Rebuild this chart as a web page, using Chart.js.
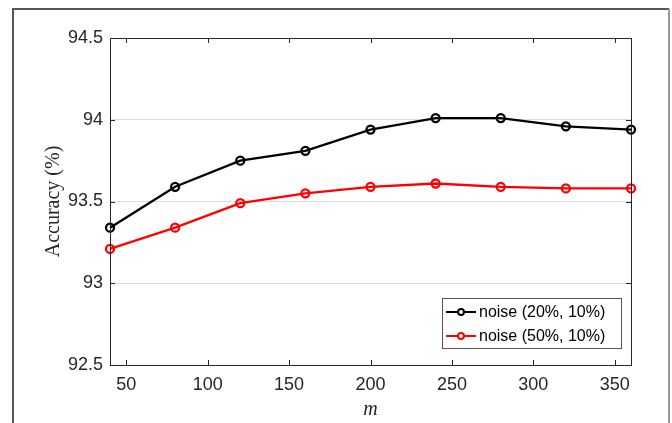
<!DOCTYPE html>
<html>
<head>
<meta charset="utf-8">
<script src="https://cdn.jsdelivr.net/npm/chart.js@4/dist/chart.umd.min.js"></script>
<style>
  html, body { margin: 0; padding: 0; background: #fff; }
  #wrap { position: relative; width: 672px; height: 423px; }
</style>
</head>
<body>
<div id="wrap"><canvas id="c" width="672" height="423"></canvas></div>
<script>
// values
const mValues = [40, 80, 120, 160, 200, 240, 280, 320, 360];
const noise20 = [93.34, 93.59, 93.75, 93.81, 93.94, 94.01, 94.01, 93.96, 93.94];
const noise50 = [93.21, 93.34, 93.49, 93.55, 93.59, 93.61, 93.59, 93.58, 93.58];
const seriesNames = ['noise (20%, 10%)', 'noise (50%, 10%)'];
const seriesColors = ['#000000', '#ff0000'];
const xTicks = [50, 100, 150, 200, 250, 300, 350];
const yTicks = [92.5, 93, 93.5, 94, 94.5];

const textColor = '#262626';

function toPoints(ys) {
  return mValues.map((x, i) => ({ x: x, y: ys[i] }));
}

// outer figure frame, box round the axes, inward ticks, legend
const matlabLook = {
  id: 'matlabLook',
  afterDraw(chart) {
    const ctx = chart.ctx;
    const a = chart.chartArea;
    const xs = chart.scales.x;
    const ys = chart.scales.y;
    ctx.save();

    // figure frame
    ctx.lineWidth = 2;
    ctx.strokeStyle = '#555';
    ctx.beginPath();
    ctx.moveTo(13, 430);
    ctx.lineTo(13, 9);
    ctx.lineTo(669, 9);
    ctx.stroke();
    ctx.strokeStyle = '#999';
    ctx.beginPath();
    ctx.moveTo(669, 9);
    ctx.lineTo(669, 430);
    ctx.stroke();

    // axes box
    ctx.strokeStyle = textColor;
    ctx.lineWidth = 1;
    ctx.strokeRect(Math.round(a.left) + 0.5, Math.round(a.top) + 0.5,
      Math.round(a.right - a.left), Math.round(a.bottom - a.top));

    // inward ticks
    ctx.beginPath();
    xTicks.forEach(v => {
      const px = Math.round(xs.getPixelForValue(v)) + 0.5;
      ctx.moveTo(px, a.bottom); ctx.lineTo(px, a.bottom - 5);
      ctx.moveTo(px, a.top); ctx.lineTo(px, a.top + 5);
    });
    yTicks.forEach(v => {
      const py = Math.round(ys.getPixelForValue(v)) + 0.5;
      ctx.moveTo(a.left, py); ctx.lineTo(a.left + 5, py);
      ctx.moveTo(a.right, py); ctx.lineTo(a.right - 5, py);
    });
    ctx.stroke();

    // legend
    const lx = 442, ly = 298, lw = 179, lh = 50;
    ctx.fillStyle = '#fff';
    ctx.fillRect(lx, ly, lw, lh);
    ctx.strokeStyle = '#555';
    ctx.strokeRect(lx + 0.5, ly + 0.5, lw, lh);
    ctx.font = '16px "Liberation Sans", Arial, sans-serif';
    ctx.textBaseline = 'middle';
    ctx.textAlign = 'left';
    chart.data.datasets.forEach((ds, i) => {
      const cy = ly + 14 + i * 24;
      ctx.strokeStyle = ds.borderColor;
      ctx.lineWidth = 2;
      ctx.beginPath();
      ctx.moveTo(lx + 4, cy); ctx.lineTo(lx + 34, cy);
      ctx.stroke();
      ctx.beginPath();
      ctx.arc(lx + 19, cy, 3, 0, Math.PI * 2);
      ctx.fillStyle = '#fff';
      ctx.fill();
      ctx.stroke();
      ctx.fillStyle = '#000';
      ctx.fillText(ds.label, lx + 37, cy + 1);
    });
    ctx.restore();
  }
};

new Chart(document.getElementById('c'), {
  type: 'line',
  data: {
    datasets: [
      { label: seriesNames[0], data: toPoints(noise20), borderColor: seriesColors[0] },
      { label: seriesNames[1], data: toPoints(noise50), borderColor: seriesColors[1] }
    ]
  },
  options: {
    responsive: false,
    animation: false,
    layout: { padding: { left: 0, right: 41, top: 38, bottom: 0 } },
    elements: {
      line: { borderWidth: 2.3, tension: 0 },
      point: { radius: 4, borderWidth: 2.3, backgroundColor: 'rgba(0,0,0,0)', hoverRadius: 4 }
    },
    datasets: { line: { clip: false } },
    plugins: { legend: { display: false }, tooltip: { enabled: false } },
    scales: {
      x: {
        type: 'linear',
        min: 40,
        max: 360,
        afterBuildTicks: s => { s.ticks = xTicks.map(v => ({ value: v })); },
        afterFit: s => { s.height = 58; },
        grid: { display: false, drawTicks: false },
        border: { display: false },
        ticks: {
          padding: 9,
          color: textColor,
          font: { family: '"Liberation Sans", Arial, sans-serif', size: 18 },
          callback: v => String(v)
        },
        title: {
          display: true,
          text: 'm',
          color: textColor,
          padding: { top: 0, bottom: 1 },
          font: { family: '"Liberation Serif", "Times New Roman", serif', size: 20, style: 'italic' }
        }
      },
      y: {
        min: 92.5,
        max: 94.5,
        afterBuildTicks: s => { s.ticks = yTicks.map(v => ({ value: v })); },
        afterFit: s => { s.width = 110; },
        grid: {
          drawTicks: false,
          color: c => (c.tick && (c.tick.value === 92.5 || c.tick.value === 94.5)) ? 'rgba(0,0,0,0)' : '#dcdcdc',
          lineWidth: 1
        },
        border: { display: false },
        ticks: {
          padding: 7,
          color: textColor,
          font: { family: '"Liberation Sans", Arial, sans-serif', size: 18 },
          callback: v => String(v)
        },
        title: {
          display: true,
          text: 'Accuracy (%)',
          color: textColor,
          padding: { top: 42, bottom: 0 },
          font: { family: '"Liberation Serif", "Times New Roman", serif', size: 20 }
        }
      }
    }
  },
  plugins: [matlabLook]
});
</script>
</body>
</html>
